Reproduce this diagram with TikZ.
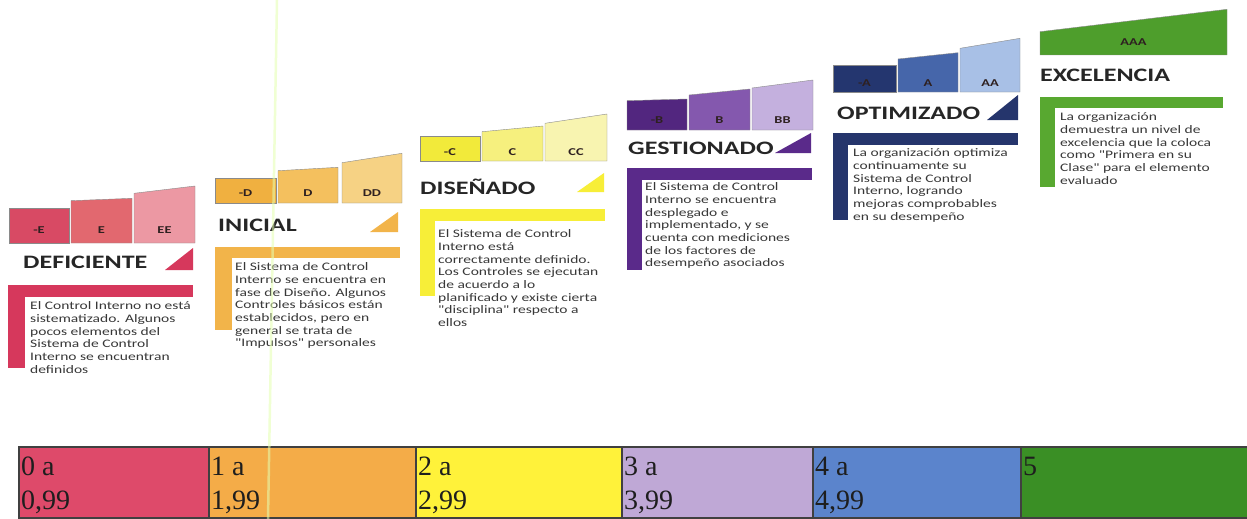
\documentclass[tikz,border=0pt]{standalone}
\usepackage{fontspec}
\newfontfamily\headf[FakeStretch=1.37]{Carlito}
\newfontfamily\bodyf[FakeStretch=1.35]{Carlito}
\newfontfamily\cellf{Liberation Serif}
\definecolor{c1a}{HTML}{D84A64}\definecolor{c1b}{HTML}{E2686F}\definecolor{c1c}{HTML}{EC98A3}\definecolor{c1}{HTML}{D6385C}
\definecolor{c2a}{HTML}{F0B040}\definecolor{c2b}{HTML}{F4C05E}\definecolor{c2c}{HTML}{F6D284}\definecolor{c2}{HTML}{F2B44A}
\definecolor{c3a}{HTML}{F2EA3A}\definecolor{c3b}{HTML}{F6F07E}\definecolor{c3c}{HTML}{F8F4B0}\definecolor{c3}{HTML}{F7EE38}
\definecolor{c4a}{HTML}{52267F}\definecolor{c4b}{HTML}{8458AE}\definecolor{c4c}{HTML}{C4B0DE}\definecolor{c4}{HTML}{5A2A8A}
\definecolor{c5a}{HTML}{24366F}\definecolor{c5b}{HTML}{4666AA}\definecolor{c5c}{HTML}{A8C0E6}\definecolor{c5}{HTML}{25356C}
\definecolor{c6a}{HTML}{4E9E2C}\definecolor{c6}{HTML}{58A830}
\definecolor{k1}{HTML}{DE4A6A}\definecolor{k2}{HTML}{F4AC48}\definecolor{k3}{HTML}{FFF23A}
\definecolor{k4}{HTML}{BFA8D6}\definecolor{k5}{HTML}{5B84CC}\definecolor{k6}{HTML}{3A8F25}
\definecolor{headtext}{HTML}{262626}\definecolor{bodytext}{HTML}{383838}
\definecolor{lbltext}{HTML}{2E2020}\definecolor{boxedge}{HTML}{8A8A8A}
\definecolor{celledge}{HTML}{404040}\definecolor{celltext}{HTML}{1E1E1E}
\definecolor{scanline}{HTML}{E4FFB0}
\begin{document}
\begin{tikzpicture}[x=1pt,y=-1pt,
  lvlbox/.style={draw=boxedge,line width=0.4pt},
  boxlbl/.style={font=\headf\bfseries\fontsize{10.5}{12}\selectfont,text=lbltext,inner sep=0pt,anchor=center},
  heading/.style={font=\headf\bfseries\fontsize{19}{22}\selectfont,text=headtext,inner sep=0pt,anchor=base west},
  bodyblock/.style={font=\bodyf\fontsize{11.5}{12.7}\selectfont,text=bodytext,align=left,inner sep=0pt,anchor=north west},
  cellbox/.style={draw=celledge,line width=1.2pt},
  celllbl/.style={font=\cellf\fontsize{28}{34}\selectfont,text=celltext,align=left,inner sep=0pt,anchor=north west}]
\useasboundingbox (0,0) rectangle (1247,519);
\fill[white] (0,0) rectangle (1247,519);

% ---------- Column 1: DEFICIENTE
\filldraw[lvlbox,fill=c1a] (9,243) -- (9,208) -- (69,208) -- (69,243) -- cycle;
\filldraw[lvlbox,fill=c1b] (71,243) -- (71,200.7) -- (132,198.3) -- (132,243) -- cycle;
\filldraw[lvlbox,fill=c1c] (134,243) -- (134,193.3) -- (195,186) -- (195,243) -- cycle;
\node[boxlbl] (l1a) at (39,230) {-E};
\node[boxlbl] (l1b) at (101.5,230) {E};
\node[boxlbl] (l1c) at (164.5,230) {EE};
\node[heading] (h1) at (23,268.5) {DEFICIENTE};
\fill[c1] (165,270) -- (193,270) -- (193,248) -- cycle;
\fill[c1] (8,285) rectangle (193,297);
\fill[c1] (8,285) rectangle (25,368);
\node[bodyblock] (t1) at (30,301.5) {El Control Interno no está\\sistematizado. Algunos\\pocos elementos del\\Sistema de Control\\Interno se encuentran\\definidos};

% ---------- Column 2: INICIAL
\filldraw[lvlbox,fill=c2a] (215,203) -- (215,178) -- (276,178) -- (276,203) -- cycle;
\filldraw[lvlbox,fill=c2b] (278,203) -- (278,170.7) -- (338,167.3) -- (338,203) -- cycle;
\filldraw[lvlbox,fill=c2c] (342,203) -- (342,162.7) -- (402,153.3) -- (402,203) -- cycle;
\node[boxlbl] (l2a) at (245.5,193) {-D};
\node[boxlbl] (l2b) at (308,193) {D};
\node[boxlbl] (l2c) at (372,193) {DD};
\node[heading] (h2) at (218,231.5) {INICIAL};
\fill[c2] (370,232) -- (398,232) -- (398,212) -- cycle;
\fill[c2] (215,247) rectangle (400,258);
\fill[c2] (215,247) rectangle (232,330);
\node[bodyblock] (t2) at (235,262.5) {El Sistema de Control\\Interno se encuentra en\\fase de Diseño. Algunos\\Controles básicos están\\establecidos, pero en\\general se trata de\\"Impulsos" personales};

% ---------- Column 3: DISEÑADO
\filldraw[lvlbox,fill=c3a] (420,161) -- (420,136) -- (480,136) -- (480,161) -- cycle;
\filldraw[lvlbox,fill=c3b] (482,161) -- (482,131.7) -- (543,126) -- (543,161) -- cycle;
\filldraw[lvlbox,fill=c3c] (545,161) -- (545,123.3) -- (607,114) -- (607,161) -- cycle;
\node[boxlbl] (l3a) at (450,152) {-C};
\node[boxlbl] (l3b) at (512.5,152) {C};
\node[boxlbl] (l3c) at (576,152) {CC};
\node[heading] (h3) at (420,194.5) {DISEÑADO};
\fill[c3] (577,192) -- (604,192) -- (604,173) -- cycle;
\fill[c3] (420,209) rectangle (605,221);
\fill[c3] (420,209) rectangle (435,296);
\node[bodyblock] (t3) at (438,229.5) {El Sistema de Control\\Interno está\\correctamente definido.\\Los Controles se ejecutan\\de acuerdo a lo\\planificado y existe cierta\\"disciplina" respecto a\\ellos};

% ---------- Column 4: GESTIONADO
\filldraw[lvlbox,fill=c4a] (627,130) -- (627,100.7) -- (687,99) -- (687,130) -- cycle;
\filldraw[lvlbox,fill=c4b] (689,130) -- (689,95) -- (750,89) -- (750,130) -- cycle;
\filldraw[lvlbox,fill=c4c] (752,130) -- (752,88) -- (813,80) -- (813,130) -- cycle;
\node[boxlbl] (l4a) at (657,120) {-B};
\node[boxlbl] (l4b) at (719.5,120) {B};
\node[boxlbl] (l4c) at (782.5,120) {BB};
\node[heading] (h4) at (628,154.5) {GESTIONADO};
\fill[c4] (775,153) -- (811,153) -- (811,133) -- cycle;
\fill[c4] (627,168) rectangle (812,180);
\fill[c4] (627,168) rectangle (642,270);
\node[bodyblock] (t4) at (645,182.5) {El Sistema de Control\\Interno se encuentra\\desplegado e\\implementado, y se\\cuenta con mediciones\\de los factores de\\desempeño asociados};

% ---------- Column 5: OPTIMIZADO
\filldraw[lvlbox,fill=c5a] (833,92) -- (833,65) -- (896,65) -- (896,92) -- cycle;
\filldraw[lvlbox,fill=c5b] (898,92) -- (898,59) -- (958,52.7) -- (958,92) -- cycle;
\filldraw[lvlbox,fill=c5c] (960,92) -- (960,48.3) -- (1020,38.3) -- (1020,92) -- cycle;
\node[boxlbl] (l5a) at (864.5,83) {-A};
\node[boxlbl] (l5b) at (928,83) {A};
\node[boxlbl] (l5c) at (990,83) {AA};
\node[heading] (h5) at (837,119.5) {OPTIMIZADO};
\fill[c5] (987,120) -- (1018,120) -- (1018,95) -- cycle;
\fill[c5] (833,133) rectangle (1018,145);
\fill[c5] (833,133) rectangle (848,220);
\node[bodyblock] (t5) at (853,148.5) {La organización optimiza\\continuamente su\\Sistema de Control\\Interno, logrando\\mejoras comprobables\\en su desempeño};

% ---------- Column 6: EXCELENCIA
\filldraw[lvlbox,fill=c6a] (1040,55) -- (1040,31.7) -- (1227,9.3) -- (1227,55) -- cycle;
\node[boxlbl] (l6a) at (1133.5,42) {AAA};
\node[heading] (h6) at (1040,81.5) {EXCELENCIA};
\fill[c6] (1040,97) rectangle (1223,108);
\fill[c6] (1040,97) rectangle (1055,187);
\node[bodyblock] (t6) at (1060,112.5) {La organización\\demuestra un nivel de\\excelencia que la coloca\\como "Primera en su\\Clase" para el elemento\\evaluado};

% ---------- Bottom scale
\filldraw[cellbox,fill=k1] (19,447) rectangle (209,518);
\filldraw[cellbox,fill=k2] (209,447) rectangle (416,518);
\filldraw[cellbox,fill=k3] (416,447) rectangle (622,518);
\filldraw[cellbox,fill=k4] (622,447) rectangle (813,518);
\filldraw[cellbox,fill=k5] (813,447) rectangle (1021,518);
\filldraw[cellbox,fill=k6] (1021,447) rectangle (1252,518);
\node[celllbl] (n1) at (21,457) {0 a\\0,99};
\node[celllbl] (n2) at (211,457) {1 a\\1,99};
\node[celllbl] (n3) at (418,457) {2 a\\2,99};
\node[celllbl] (n4) at (624,457) {3 a\\3,99};
\node[celllbl] (n5) at (815,457) {4 a\\4,99};
\node[celllbl] (n6) at (1023,457) {5};

% ---------- scan artefact line
\draw[scanline,line width=2.5pt,opacity=0.55] (277,0) -- (268,519);
\end{tikzpicture}
\end{document}
